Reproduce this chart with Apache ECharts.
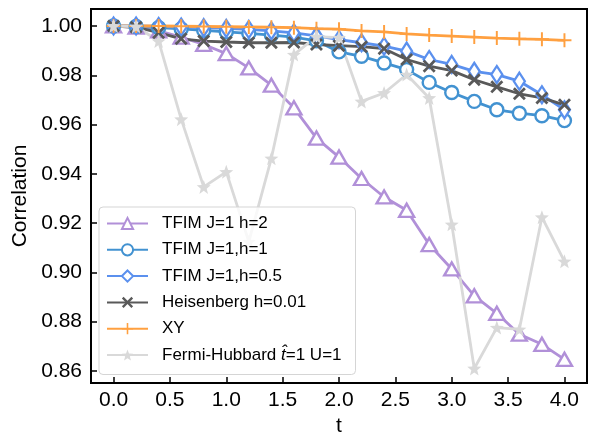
<!DOCTYPE html>
<html><head><meta charset="utf-8">
<script src="https://cdn.jsdelivr.net/npm/echarts@6/dist/echarts.min.js"></script>
<style>html,body{margin:0;padding:0;background:#fff}#c{width:595px;height:435px}</style>
</head><body><div id="c"></div>
<script>
const tValues = [0.0, 0.2, 0.4, 0.6, 0.8, 1.0, 1.2, 1.4, 1.6, 1.8, 2.0, 2.2, 2.4, 2.6, 2.8, 3.0, 3.2, 3.4, 3.6, 3.8, 4.0];
const tfimH2 = [1.0, 0.9995, 0.998, 0.9955, 0.9925, 0.9888, 0.983, 0.976, 0.9668, 0.9545, 0.9468, 0.9381, 0.9306, 0.9252, 0.9113, 0.9014, 0.8905, 0.8834, 0.8749, 0.8708, 0.8647];
const tfimH1 = [1.0, 0.9998, 0.9993, 0.9988, 0.9982, 0.9976, 0.997, 0.9963, 0.9955, 0.994, 0.9895, 0.9877, 0.985, 0.9823, 0.9771, 0.973, 0.9694, 0.966, 0.9646, 0.9636, 0.9616];
const tfimH05 = [1.0, 1.0, 0.9998, 0.9996, 0.9993, 0.999, 0.9986, 0.998, 0.9972, 0.996, 0.9945, 0.9932, 0.9918, 0.9898, 0.9864, 0.9844, 0.9816, 0.9803, 0.9776, 0.9721, 0.966];
const heisenberg = [1.0, 0.9995, 0.9973, 0.9948, 0.9939, 0.9935, 0.9932, 0.9932, 0.9933, 0.9925, 0.992, 0.9916, 0.9908, 0.9864, 0.9837, 0.9819, 0.9782, 0.9753, 0.9725, 0.9708, 0.968];
const xy = [1.0, 1.0, 1.0, 0.9999, 0.9998, 0.9997, 0.9996, 0.9995, 0.9993, 0.9989, 0.9987, 0.998, 0.9976, 0.9968, 0.9963, 0.9959, 0.9955, 0.9951, 0.9948, 0.9946, 0.9942];
const fermiHubbard = [1.0, 0.9998, 0.9939, 0.9622, 0.9347, 0.9408, 0.9125, 0.9463, 0.9884, 0.9957, 0.9953, 0.9694, 0.9728, 0.9803, 0.9708, 0.9195, 0.861, 0.8776, 0.8769, 0.9224, 0.9045];
const xTicks = [0.0, 0.5, 1.0, 1.5, 2.0, 2.5, 3.0, 3.5, 4.0];
const yTicks = [0.86, 0.88, 0.90, 0.92, 0.94, 0.96, 0.98, 1.00];
const seriesNames = ['TFIM J=1 h=2', 'TFIM J=1,h=1', 'TFIM J=1,h=0.5', 'Heisenberg h=0.01', 'XY', 'Fermi-Hubbard t̂=1 U=1'];

const FONT = 'Liberation Sans';
const X_PATH = 'path://M0,3 L3,0 L10,7 L17,0 L20,3 L13,10 L20,17 L17,20 L10,13 L3,20 L0,17 L7,10 Z';
const PLUS_PATH = 'path://M8.6,0 H11.4 V8.6 H20 V11.4 H11.4 V20 H8.6 V11.4 H0 V8.6 H8.6 Z';
const STAR_PATH = 'path://M10,0 L12.47,6.6 L19.51,6.91 L13.99,11.3 L15.88,18.09 L10,14.2 L4.12,18.09 L6.01,11.3 L0.49,6.91 L7.53,6.6 Z';

function pair(ys) { return tValues.map((t, i) => [t, ys[i]]); }
function mk(name, ys, color, symbol, size, hollow) {
  return {
    name: name, type: 'line', data: pair(ys), symbol: symbol, symbolSize: size,
    lineStyle: { color: color, width: 2.8 },
    itemStyle: hollow ? { color: '#fff', borderColor: color, borderWidth: 2.4 } : { color: color, borderWidth: 0 },
    emphasis: { disabled: true }, animation: false
  };
}

const chart = echarts.init(document.getElementById('c'), null, { renderer: 'canvas' });
chart.setOption({
  animation: false,
  backgroundColor: '#fff',
  grid: { left: 91, right: 8, top: 9, bottom: 52, show: true, borderColor: '#000', borderWidth: 2, containLabel: false, outerBoundsMode: 'none' },
  legend: {
    orient: 'vertical', left: 99, top: 207,
    itemWidth: 41, itemHeight: 14, itemGap: 9.3,
    padding: [8, 14, 11, 7],
    borderColor: '#d5d5d5', borderWidth: 1, borderRadius: 4,
    backgroundColor: 'rgba(255,255,255,0.8)',
    textStyle: { fontFamily: FONT, fontSize: 17, color: '#000', padding: [0, 0, 0, 9],
      rich: { n: { fontFamily: FONT, fontSize: 17, color: '#000' }, i: { fontFamily: FONT, fontSize: 17, fontStyle: 'italic', color: '#000' } } },
    formatter: function (n) {
      if (n.indexOf('t̂') >= 0) { const p = n.split('t̂'); return '{n|' + p[0] + '}{i|t̂}{n|' + p[1] + '}'; }
      return n;
    },
    data: seriesNames
  },
  xAxis: {
    type: 'value', min: -0.2, max: 4.2,
    name: 't', nameLocation: 'middle', nameGap: 33,
    nameTextStyle: { fontFamily: FONT, fontSize: 21, color: '#000' },
    axisLine: { show: true, onZero: false, lineStyle: { color: '#000', width: 2 } },
    axisTick: { show: true, inside: true, length: 6, lineStyle: { color: '#000', width: 1.5 }, customValues: xTicks },
    axisLabel: { fontFamily: FONT, fontSize: 21, color: '#000', margin: 7, customValues: xTicks, formatter: v => v.toFixed(1) },
    splitLine: { show: false }
  },
  yAxis: {
    type: 'value', min: 0.8551, max: 1.0069,
    name: 'Correlation', nameLocation: 'middle', nameGap: 57, nameRotate: 90,
    nameTextStyle: { fontFamily: FONT, fontSize: 21, color: '#000' },
    axisLine: { show: true, onZero: false, lineStyle: { color: '#000', width: 2 } },
    axisTick: { show: true, inside: true, length: 6, lineStyle: { color: '#000', width: 1.5 }, customValues: yTicks },
    axisLabel: { fontFamily: FONT, fontSize: 21, color: '#000', margin: 9, customValues: yTicks, formatter: v => v.toFixed(2) },
    splitLine: { show: false }
  },
  series: [
    mk(seriesNames[0], tfimH2, '#b190d8', 'triangle', [15, 13], true),
    mk(seriesNames[1], tfimH1, '#4292d1', 'circle', 13, true),
    mk(seriesNames[2], tfimH05, '#5b90ee', 'diamond', [11, 17], true),
    mk(seriesNames[3], heisenberg, '#595959', X_PATH, 13, false),
    mk(seriesNames[4], xy, '#ffa040', PLUS_PATH, 14, false),
    mk(seriesNames[5], fermiHubbard, '#d9d9d9', STAR_PATH, 14, false)
  ]
});
</script></body></html>
